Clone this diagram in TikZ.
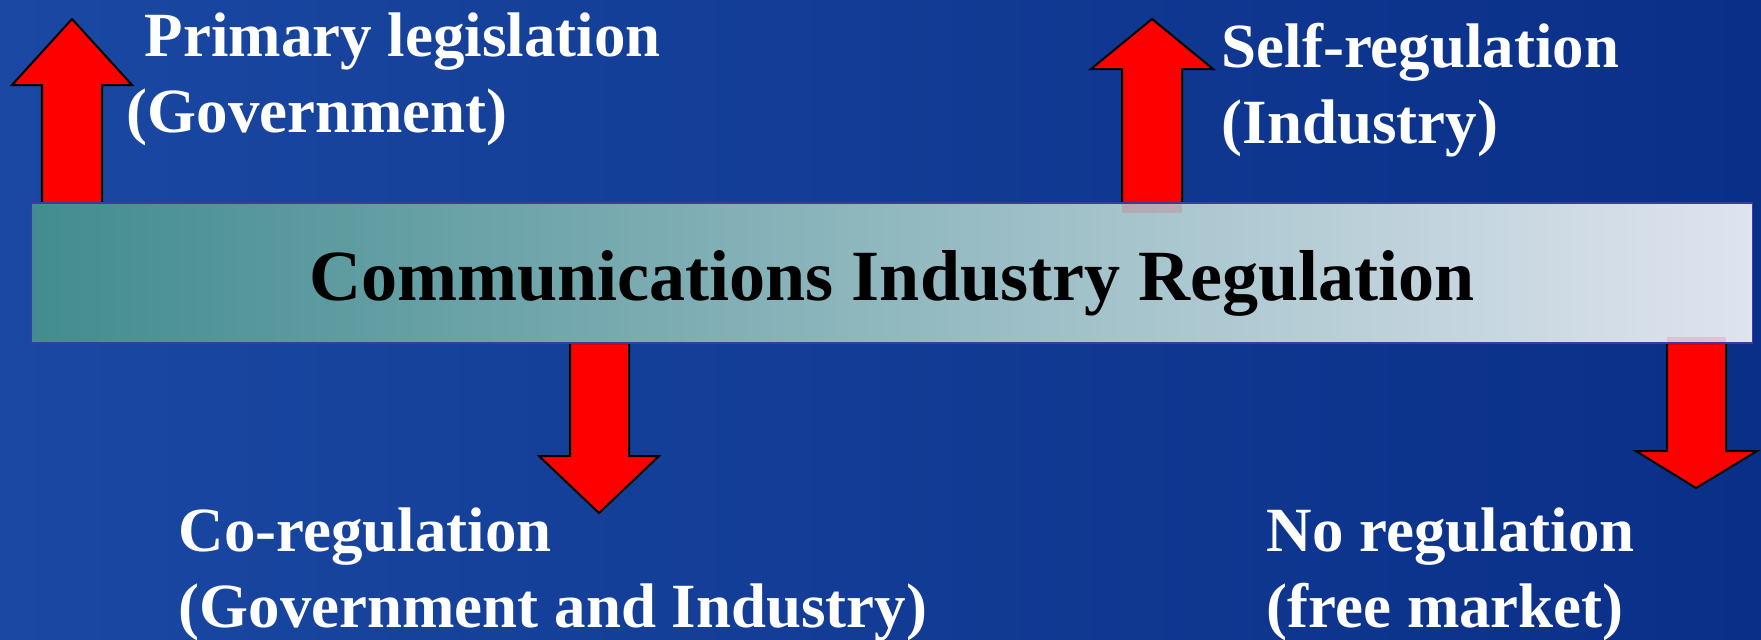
\documentclass[tikz,border=0pt]{standalone}
\usepackage{fontspec}
\setmainfont{Liberation Serif}
\definecolor{bgleft}{HTML}{1A48A2}
\definecolor{bgright}{HTML}{0A2F88}
\definecolor{bandleft}{HTML}{428C8F}
\definecolor{bandright}{HTML}{DFE4EF}
\definecolor{bandline}{HTML}{3E3A9E}
\begin{document}
\begin{tikzpicture}[x=0.01cm,y=-0.01cm,
        blockarrow/.style={fill=red,draw=black,line width=0.02cm,line join=miter},
        whitetext/.style={text=white,font=\fontsize{17.9}{21.6}\selectfont\bfseries,align=left,inner sep=0pt,anchor=base west},
        band/.style={draw=bandline,line width=0.015cm,left color=bandleft,right color=bandright,minimum width=17.2cm,minimum height=1.4cm,inner sep=0pt},
        bandtext/.style={font=\fontsize{20.5}{24}\selectfont\bfseries,inner sep=0pt,anchor=base}]
        \useasboundingbox (0,0) rectangle (1761,639);
        \shade[left color=bgleft,right color=bgright] (0,0) rectangle (1761,639);

        \draw[blockarrow] (42,203) -- (42,85) -- (12,85) -- (72,19) -- (132,85) -- (102,85) -- (102,203) -- cycle;
        \draw[blockarrow] (1122,203) -- (1122,69) -- (1091,69) -- (1152,19) -- (1213,69) -- (1182,69) -- (1182,203) -- cycle;
        \draw[blockarrow] (570,343) -- (570,456) -- (539,456) -- (599,513) -- (659,456) -- (629,456) -- (629,343) -- cycle;
        \draw[blockarrow] (1667,343) -- (1667,451) -- (1636,451) -- (1696,488) -- (1757,451) -- (1726,451) -- (1726,343) -- cycle;

        \node[band] (reg) at (892,273) {};
        \node[bandtext] (regtext) at (892,300) {Communications Industry Regulation};
        \fill[red,opacity=0.13] (1122,204) rectangle (1182,213);
        \fill[red,opacity=0.13] (1667,337) rectangle (1726,342);

        \node[whitetext] (primary) at (126,132) {\hspace*{0.18cm}Primary legislation\\(Government)};
        \node[whitetext] (selfreg) at (1221,143) {Self-regulation\\(Industry)};
        \node[whitetext] (coreg)   at (178,627) {Co-regulation\\(Government and Industry)};
        \node[whitetext] (noreg)   at (1266,627) {No regulation\\(free market)};
\end{tikzpicture}
\end{document}
